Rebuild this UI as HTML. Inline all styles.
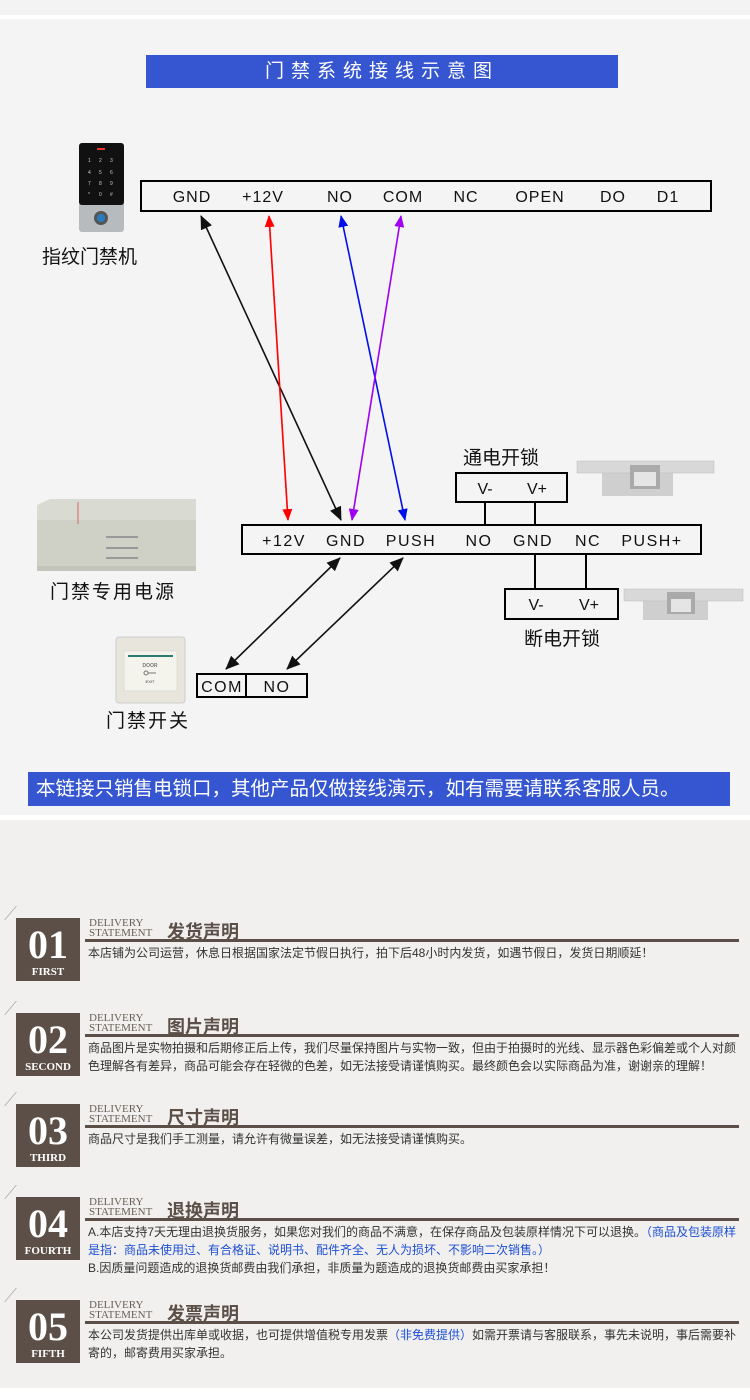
<!DOCTYPE html>
<html><head><meta charset="utf-8"><style>
*{margin:0;padding:0;box-sizing:border-box}
body{width:750px;height:1400px;background:#fff;position:relative;overflow:hidden;font-family:"Liberation Sans","Noto Sans CJK SC",sans-serif}
.a{position:absolute}
.badge{position:absolute;left:16px;width:64px;height:63px;background:#5b4f47;color:#fff;text-align:center;font-family:"Liberation Serif",serif}
.badge b{display:block;font-size:40px;line-height:42px;font-weight:bold;margin-top:6px}
.badge i{display:block;font-style:normal;font-size:11px;font-weight:bold;line-height:12px}
.badge:before{content:"";position:absolute;left:-6px;top:-12px;width:14px;height:14px;border-left:1px solid #aaa;transform:skewX(-40deg)}
.dl{position:absolute;left:89px;font-family:"Liberation Serif",serif;font-size:11px;line-height:10px;color:#6a5f58}
.tt{position:absolute;left:167px;font-size:18px;font-weight:bold;color:#5b4f47}
.ul{position:absolute;left:85px;width:654px;height:3px;background:#5b4f47}
.tx{position:absolute;left:88px;width:652px;font-size:12px;line-height:18px;color:#333}
.bl{color:#1d4fd6}
</style></head><body>
<div class="a" style="left:0;top:0;width:750px;height:15px;background:#f3f3f3"></div>
<div class="a" style="left:0;top:19px;width:750px;height:796px;background:#f4f4f4"></div>
<div class="a" style="left:146px;top:55px;width:472px;height:33px;background:#3556d0;color:#fff;font-size:19px;letter-spacing:7px;text-align:center;line-height:33px">门禁系统接线示意图</div>

<svg class="a" style="left:0;top:0" width="750" height="815" viewBox="0 0 750 815">
<defs>
<marker id="r" markerWidth="12" markerHeight="12" refX="11" refY="6" orient="auto-start-reverse" markerUnits="userSpaceOnUse" viewBox="0 0 12 12"><path d="M0,1 L12,6 L0,11z" fill="#f00"/></marker>
<marker id="b" markerWidth="12" markerHeight="12" refX="11" refY="6" orient="auto-start-reverse" markerUnits="userSpaceOnUse" viewBox="0 0 12 12"><path d="M0,1 L12,6 L0,11z" fill="#0010e8"/></marker>
<marker id="p" markerWidth="12" markerHeight="12" refX="11" refY="6" orient="auto-start-reverse" markerUnits="userSpaceOnUse" viewBox="0 0 12 12"><path d="M0,1 L12,6 L0,11z" fill="#a000f0"/></marker>
<marker id="K" markerWidth="14" markerHeight="14" refX="13" refY="7" orient="auto-start-reverse" markerUnits="userSpaceOnUse" viewBox="0 0 14 14"><path d="M0,1 L14,7 L0,13z" fill="#111"/></marker>
</defs>
<rect x="79" y="143" width="45" height="89" rx="3" fill="#b8bbbe"/>
<rect x="79" y="143" width="45" height="62" rx="3" fill="#111"/>
<rect x="97" y="148" width="8" height="2" fill="#e33"/>
<g fill="#ccc" font-size="5" font-family="Liberation Sans"><text x="88" y="162">1</text><text x="99" y="162">2</text><text x="110" y="162">3</text><text x="88" y="174">4</text><text x="99" y="174">5</text><text x="110" y="174">6</text><text x="88" y="185">7</text><text x="99" y="185">8</text><text x="110" y="185">9</text><text x="88" y="196">*</text><text x="99" y="196">0</text><text x="110" y="196">#</text></g>
<circle cx="101" cy="218" r="7" fill="#555"/><circle cx="101" cy="218" r="4" fill="#2a7cc0"/>
<text x="42" y="263" font-size="19" fill="#111">指纹门禁机</text>
<rect x="141" y="181" width="570" height="30" fill="none" stroke="#000" stroke-width="2"/>
<g font-size="16" fill="#111" font-family="Liberation Sans" text-anchor="middle" letter-spacing="1">
<text x="192" y="202">GND</text><text x="263" y="202">+12V</text><text x="340" y="202">NO</text><text x="403" y="202">COM</text><text x="466" y="202">NC</text><text x="540" y="202">OPEN</text><text x="613" y="202">DO</text><text x="668" y="202">D1</text></g>
<line x1="201" y1="216" x2="341" y2="520" stroke="#111" stroke-width="1.6" marker-start="url(#K)" marker-end="url(#K)"/>
<line x1="269" y1="216" x2="288" y2="520" stroke="#f00" stroke-width="1.6" marker-start="url(#r)" marker-end="url(#r)"/>
<line x1="341" y1="216" x2="405" y2="520" stroke="#0010e8" stroke-width="1.6" marker-start="url(#b)" marker-end="url(#b)"/>
<line x1="401" y1="216" x2="352" y2="520" stroke="#a000f0" stroke-width="1.6" marker-start="url(#p)" marker-end="url(#p)"/>
<rect x="242" y="525" width="459" height="29" fill="none" stroke="#000" stroke-width="2"/>
<g font-size="16" fill="#111" font-family="Liberation Sans" text-anchor="middle" letter-spacing="1.5">
<text x="284" y="546">+12V</text><text x="346" y="546">GND</text><text x="411" y="546">PUSH</text><text x="479" y="546">NO</text><text x="533" y="546">GND</text><text x="588" y="546">NC</text><text x="652" y="546">PUSH+</text></g>
<text x="463" y="464" font-size="19" fill="#111">通电开锁</text>
<rect x="456" y="473" width="111" height="29" fill="none" stroke="#000" stroke-width="2"/>
<g font-size="16" fill="#111" font-family="Liberation Sans" text-anchor="middle"><text x="485" y="494">V-</text><text x="537" y="494">V+</text></g>
<line x1="485" y1="502" x2="485" y2="524" stroke="#000" stroke-width="2"/>
<line x1="535" y1="502" x2="535" y2="524" stroke="#000" stroke-width="2"/>
<line x1="535" y1="554" x2="535" y2="589" stroke="#000" stroke-width="2"/>
<line x1="586" y1="554" x2="586" y2="589" stroke="#000" stroke-width="2"/>
<rect x="505" y="589" width="113" height="30" fill="none" stroke="#000" stroke-width="2"/>
<g font-size="16" fill="#111" font-family="Liberation Sans" text-anchor="middle"><text x="536" y="610">V-</text><text x="589" y="610">V+</text></g>
<text x="524" y="645" font-size="19" fill="#111">断电开锁</text>
<rect x="602" y="468" width="71" height="28" fill="#cfcfcf"/><rect x="577" y="461" width="137" height="12" fill="#d8d8d8" stroke="#bbb" stroke-width=".5"/><rect x="630" y="465" width="30" height="24" fill="#aaa"/><rect x="634" y="472" width="22" height="14" fill="#e5e5e5"/>
<rect x="643" y="594" width="65" height="26" fill="#cfcfcf"/><rect x="624" y="589" width="119" height="12" fill="#d8d8d8" stroke="#bbb" stroke-width=".5"/><rect x="667" y="592" width="28" height="22" fill="#aaa"/><rect x="671" y="599" width="20" height="13" fill="#e5e5e5"/>
<path d="M50,499 L196,499 L196,568 L37,570 L37,505z" fill="#d9dbd2"/>
<rect x="37" y="520" width="159" height="50" fill="#cfd1c7"/>
<rect x="37" y="566" width="159" height="5" fill="#c3c5bb"/>
<g stroke="#999" stroke-width="2"><line x1="106" y1="537" x2="138" y2="537"/><line x1="106" y1="548" x2="138" y2="548"/><line x1="106" y1="558" x2="138" y2="558"/></g>
<line x1="78" y1="502" x2="78" y2="524" stroke="#d66" stroke-width="1"/>
<text x="50" y="598" font-size="19" fill="#111" letter-spacing="2">门禁专用电源</text>
<rect x="116" y="637" width="69" height="66" rx="3" fill="#e8e6dc" stroke="#ccc"/>
<rect x="124" y="651" width="53" height="40" fill="#f4f3ec" stroke="#ccc" stroke-width=".5"/>
<rect x="128" y="655" width="45" height="2" fill="#2a7a72"/>
<text x="150" y="667" font-size="5" fill="#777" text-anchor="middle" font-weight="bold">DOOR</text>
<text x="150" y="683" font-size="4" fill="#777" text-anchor="middle" font-weight="bold">EXIT</text>
<circle cx="146" cy="673" r="2" fill="none" stroke="#777"/><line x1="148" y1="673" x2="156" y2="673" stroke="#777"/>
<text x="106" y="727" font-size="19" fill="#111" letter-spacing="2">门禁开关</text>
<line x1="340" y1="558" x2="226" y2="669" stroke="#111" stroke-width="1.6" marker-start="url(#K)" marker-end="url(#K)"/>
<line x1="403" y1="558" x2="287" y2="669" stroke="#111" stroke-width="1.6" marker-start="url(#K)" marker-end="url(#K)"/>
<rect x="197" y="674" width="110" height="23" fill="none" stroke="#000" stroke-width="2"/>
<line x1="246" y1="674" x2="246" y2="697" stroke="#000" stroke-width="2"/>
<g font-size="16" fill="#111" font-family="Liberation Sans" text-anchor="middle" letter-spacing="1.5"><text x="222" y="692">COM</text><text x="277" y="692">NO</text></g>
</svg>
<div class="a" style="left:28px;top:772px;width:702px;height:34px;background:#3556d0;color:#fff;font-size:19.5px;line-height:34px;padding-left:8px;white-space:nowrap">本链接只销售电锁口，其他产品仅做接线演示，如有需要请联系客服人员。</div>

<div class="a" style="left:0;top:820px;width:750px;height:568px;background:#f1f0ee"></div>

<div class="badge" style="top:918px"><b>01</b><i>FIRST</i></div>
<div class="dl" style="top:918px">DELIVERY<br>STATEMENT</div>
<div class="tt" style="top:918px">发货声明</div>
<div class="ul" style="top:939px"></div>
<div class="tx" style="top:944px">本店铺为公司运营，休息日根据国家法定节假日执行，拍下后48小时内发货，如遇节假日，发货日期顺延！</div>

<div class="badge" style="top:1013px"><b>02</b><i>SECOND</i></div>
<div class="dl" style="top:1013px">DELIVERY<br>STATEMENT</div>
<div class="tt" style="top:1013px">图片声明</div>
<div class="ul" style="top:1034px"></div>
<div class="tx" style="top:1039px">商品图片是实物拍摄和后期修正后上传，我们尽量保持图片与实物一致，但由于拍摄时的光线、显示器色彩偏差或个人对颜色理解各有差异，商品可能会存在轻微的色差，如无法接受请谨慎购买。最终颜色会以实际商品为准，谢谢亲的理解！</div>

<div class="badge" style="top:1104px"><b>03</b><i>THIRD</i></div>
<div class="dl" style="top:1104px">DELIVERY<br>STATEMENT</div>
<div class="tt" style="top:1104px">尺寸声明</div>
<div class="ul" style="top:1125px"></div>
<div class="tx" style="top:1130px">商品尺寸是我们手工测量，请允许有微量误差，如无法接受请谨慎购买。</div>

<div class="badge" style="top:1197px"><b>04</b><i>FOURTH</i></div>
<div class="dl" style="top:1197px">DELIVERY<br>STATEMENT</div>
<div class="tt" style="top:1197px">退换声明</div>
<div class="ul" style="top:1218px"></div>
<div class="tx" style="top:1223px">A.本店支持7天无理由退换货服务，如果您对我们的商品不满意，在保存商品及包装原样情况下可以退换。<span class="bl">（商品及包装原样是指：商品未使用过、有合格证、说明书、配件齐全、无人为损坏、不影响二次销售。）</span><br>B.因质量问题造成的退换货邮费由我们承担，非质量为题造成的退换货邮费由买家承担！</div>

<div class="badge" style="top:1300px"><b>05</b><i>FIFTH</i></div>
<div class="dl" style="top:1300px">DELIVERY<br>STATEMENT</div>
<div class="tt" style="top:1300px">发票声明</div>
<div class="ul" style="top:1321px"></div>
<div class="tx" style="top:1326px">本公司发货提供出库单或收据，也可提供增值税专用发票<span class="bl">（非免费提供）</span>如需开票请与客服联系，事先未说明，事后需要补寄的，邮寄费用买家承担。</div>
</body></html>
